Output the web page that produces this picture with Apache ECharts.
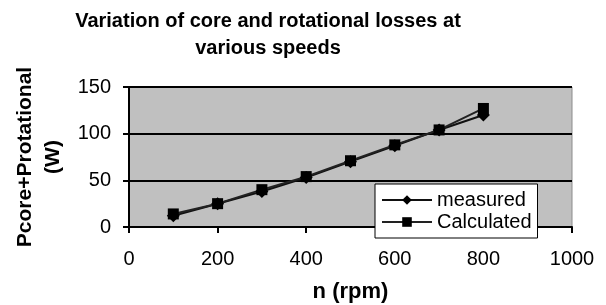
<!DOCTYPE html>
<html>
<head>
<meta charset="utf-8">
<script src="https://cdn.jsdelivr.net/npm/echarts@6/dist/echarts.min.js"></script>
<style>
    html, body { margin: 0; padding: 0; background: #fff; }
    #main { width: 606px; height: 305px; }
</style>
</head>
<body>
<div id="main"></div>
<script type="text/javascript">
    // 数据
    const speeds = [100, 200, 300, 400, 500, 600, 700, 800];
    const measured = [12, 25, 38, 53, 70, 87, 104, 120];
    const calculated = [14, 25, 40, 54, 71, 88, 104, 127];

    const font = 'Liberation Sans, Arial, sans-serif';

    function pairs(xs, ys) {
        let out = [];
        for (let i = 0; i < xs.length; i++) {
            out.push([xs[i], ys[i]]);
        }
        return out;
    }

    let myChart = echarts.init(document.getElementById('main'));

    let option = {
        animation: false,
        backgroundColor: '#fff',
        title: {
            text: 'Variation of core and rotational losses at\nvarious speeds',
            left: 263,
            textAlign: 'center',
            top: 3,
            textStyle: {
                fontFamily: font,
                fontWeight: 'bold',
                fontSize: 20,
                lineHeight: 27,
                color: '#000'
            }
        },
        grid: {
            left: 129,
            right: 34,
            top: 87,
            bottom: 78,
            outerBoundsMode: 'none',
            containLabel: false,
            show: true,
            backgroundColor: '#c0c0c0',
            borderColor: '#8c8c8c',
            borderWidth: 1
        },
        legend: {
            orient: 'vertical',
            left: 375,
            top: 184,
            padding: [6, 6, 6, 6],
            itemGap: 2,
            itemWidth: 50,
            itemHeight: 12,
            backgroundColor: '#fff',
            borderColor: '#000',
            borderWidth: 1,
            borderRadius: 0,
            textStyle: { fontFamily: font, fontSize: 20, color: '#000' },
            data: ['measured', 'Calculated']
        },
        xAxis: {
            type: 'value',
            min: 0,
            max: 1000,
            interval: 200,
            name: 'n (rpm)',
            nameLocation: 'middle',
            nameGap: 54,
            nameTextStyle: { fontFamily: font, fontWeight: 'bold', fontSize: 22, color: '#000' },
            axisLine: { show: true, lineStyle: { color: '#000', width: 2 } },
            axisTick: { show: true, length: 6, lineStyle: { color: '#000', width: 2 } },
            axisLabel: { fontFamily: font, fontSize: 20, color: '#000', margin: 22, formatter: v => String(v) },
            splitLine: { show: false }
        },
        yAxis: {
            type: 'value',
            min: 0,
            max: 150,
            interval: 50,
            name: 'Pcore+Protational\n(W)',
            nameLocation: 'middle',
            nameGap: 61,
            nameTextStyle: { fontFamily: font, fontWeight: 'bold', fontSize: 21, lineHeight: 28, color: '#000' },
            axisLine: { show: true, lineStyle: { color: '#000', width: 2 } },
            axisTick: { show: true, length: 6, lineStyle: { color: '#000', width: 2 } },
            axisLabel: { fontFamily: font, fontSize: 20, color: '#000', margin: 18 },
            splitLine: { show: true, lineStyle: { color: '#000', width: 2 } }
        },
        series: [
            {
                name: 'measured',
                type: 'line',
                symbol: 'diamond',
                symbolSize: 13,
                data: pairs(speeds, measured),
                itemStyle: { color: '#000' },
                lineStyle: { color: '#111', width: 2 }
            },
            {
                name: 'Calculated',
                type: 'line',
                symbol: 'rect',
                symbolSize: 11,
                data: pairs(speeds, calculated),
                itemStyle: { color: '#000' },
                lineStyle: { color: '#222', width: 2 }
            }
        ]
    };
    myChart.setOption(option);
</script>
</body>
</html>
